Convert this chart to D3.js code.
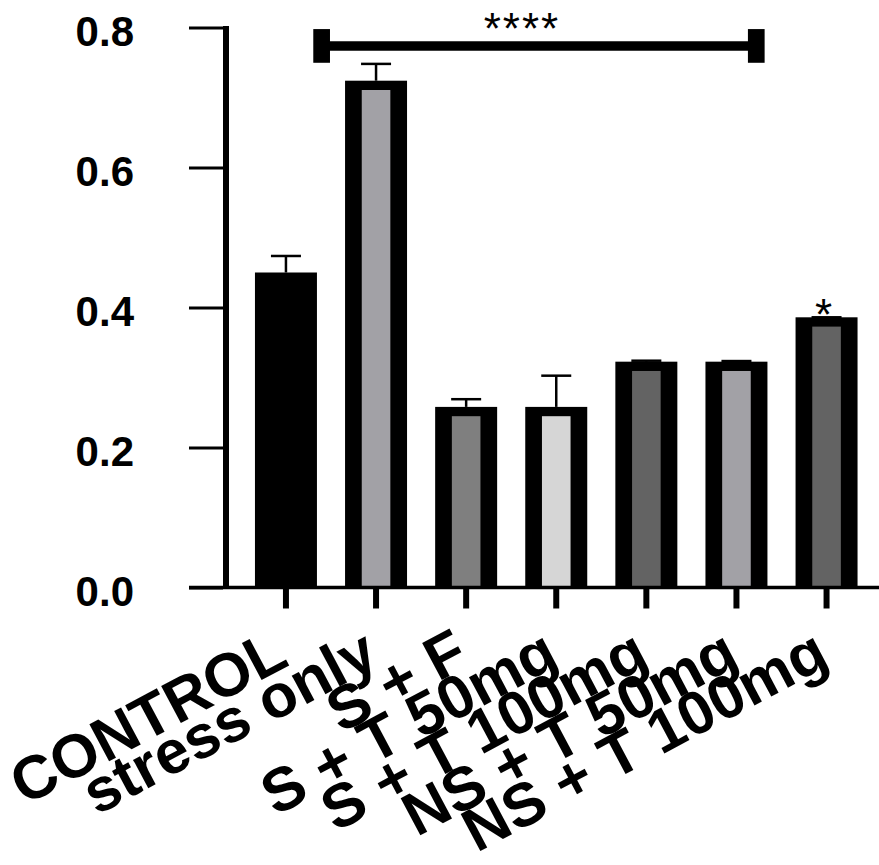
<!DOCTYPE html>
<html>
<head>
<meta charset="utf-8">
<script src="https://cdn.jsdelivr.net/npm/d3@7"></script>
<style>
  html, body { margin: 0; padding: 0; background: #fff; }
  svg { display: block; }
  text { font-family: "Liberation Sans", Arial, sans-serif; fill: #000; }
</style>
</head>
<body>
<svg id="chart" width="879" height="865"></svg>
<script>
// Group names along the x axis
const categories = ["CONTROL", "stress only", "S + F", "S + T 50mg", "S + T 100mg", "NS + T 50mg", "NS + T 100mg"];
// Group means
const means = [0.450, 0.724, 0.258, 0.258, 0.3226, 0.3226, 0.386];
// Top of each error bar (mean + SEM)
const errTops = [0.4736, 0.748, 0.269, 0.3026, 0.324, 0.3235, 0.386];
// Inner fill of each bar
const fills = ["#000000", "#a2a1a6", "#7f7f7f", "#d6d6d6", "#636363", "#a2a1a6", "#636363"];
// Y axis ticks
const yTicks = [0.0, 0.2, 0.4, 0.6, 0.8];
// Significance marks: bracket across groups (in group-index units) and single-group star
const bracket = { from: 0.396, to: 5.22, value: 0.7736, label: "****" };
const stars = [{ group: "NS + T 100mg", label: "*" }];

const svg = d3.select("#chart");

const x = d3.scaleBand()
  .domain(categories)
  .range([240.9, 871.6])
  .paddingInner(0.312)
  .paddingOuter(0.156);

const y = d3.scaleLinear().domain([0, 0.8]).range([587.5, 27.5]);

// continuous position by group index, for annotations between groups
const xi = d3.scaleLinear()
  .domain([0, categories.length - 1])
  .range([x(categories[0]) + x.bandwidth() / 2, x(categories[categories.length - 1]) + x.bandwidth() / 2]);

const sideBorder = 16.7, topBorder = 9.3;

// error bars (drawn first, they rise from the bar tops)
const eb = svg.append("g");
categories.forEach((c, i) => {
  const cx = x(c) + x.bandwidth() / 2;
  eb.append("line")
    .attr("x1", cx).attr("x2", cx)
    .attr("y1", y(means[i])).attr("y2", y(errTops[i]))
    .attr("stroke", "#000").attr("stroke-width", 2.5);
  eb.append("line")
    .attr("x1", cx - 15).attr("x2", cx + 15)
    .attr("y1", y(errTops[i])).attr("y2", y(errTops[i]))
    .attr("stroke", "#000").attr("stroke-width", 2.5);
});

// bars: black frame with inner fill
const bars = svg.append("g");
categories.forEach((c, i) => {
  bars.append("rect")
    .attr("x", x(c)).attr("width", x.bandwidth())
    .attr("y", y(means[i])).attr("height", y(0) - y(means[i]))
    .attr("fill", "#000");
  bars.append("rect")
    .attr("x", x(c) + sideBorder).attr("width", x.bandwidth() - 2 * sideBorder)
    .attr("y", y(means[i]) + topBorder).attr("height", Math.max(0, y(0) - y(means[i]) - topBorder))
    .attr("fill", fills[i]);
});

// y axis
const yAxis = svg.append("g")
  .attr("transform", "translate(226,0)")
  .call(d3.axisLeft(y).tickValues(yTicks).tickFormat(d3.format(".1f")).tickSizeInner(37).tickSizeOuter(0).tickPadding(55));
yAxis.select(".domain").remove();
yAxis.selectAll(".tick line").attr("stroke", "#000").attr("stroke-width", 3).attr("x1", -3);
yAxis.selectAll(".tick text")
  .attr("font-size", 42).attr("font-weight", "bold")
  .attr("font-family", "'Liberation Sans', Arial, sans-serif")
  .attr("dy", "0.44em").attr("x", -92);
yAxis.append("line")
  .attr("x1", 0).attr("x2", 0)
  .attr("y1", y(0.8) - 1.5).attr("y2", y(0) + 1.5)
  .attr("stroke", "#000").attr("stroke-width", 6);

// x axis
const xAxis = svg.append("g")
  .attr("transform", `translate(0,${y(0)})`)
  .call(d3.axisBottom(x).tickSizeInner(21).tickSizeOuter(0).tickPadding(0));
xAxis.select(".domain").remove();
xAxis.selectAll(".tick line").attr("stroke", "#000").attr("stroke-width", 6);
xAxis.selectAll(".tick text")
  .attr("font-size", 61).attr("font-weight", "bold")
  .attr("font-family", "'Liberation Sans', Arial, sans-serif")
  .attr("text-anchor", "end")
  .attr("x", null).attr("y", null).attr("dy", null)
  .attr("transform", "translate(5,77) rotate(-28)");
xAxis.append("line")
  .attr("x1", 189).attr("x2", 879)
  .attr("y1", 0).attr("y2", 0)
  .attr("stroke", "#000").attr("stroke-width", 3.5);

// significance bracket
const sig = svg.append("g");
const bx1 = xi(bracket.from), bx2 = xi(bracket.to), by = y(bracket.value);
sig.append("line")
  .attr("x1", bx1).attr("x2", bx2).attr("y1", by).attr("y2", by)
  .attr("stroke", "#000").attr("stroke-width", 9.4);
[bx1, bx2].forEach(bx => {
  sig.append("rect")
    .attr("x", bx - 8.35).attr("width", 16.7)
    .attr("y", by - 16.9).attr("height", 33.7)
    .attr("fill", "#000");
});
sig.append("text")
  .attr("x", (bx1 + bx2) / 2 - 17).attr("y", by - 2)
  .attr("text-anchor", "middle")
  .attr("font-size", 44).attr("letter-spacing", 2)
  .text(bracket.label);

stars.forEach(s => {
  const i = categories.indexOf(s.group);
  sig.append("text")
    .attr("x", x(s.group) + x.bandwidth() / 2 - 3)
    .attr("y", y(means[i]) + 13)
    .attr("text-anchor", "middle")
    .attr("font-size", 44)
    .text(s.label);
});
</script>
</body>
</html>
